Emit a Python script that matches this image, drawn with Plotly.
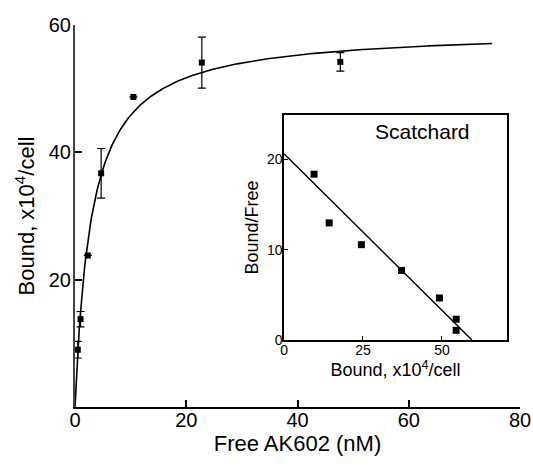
import numpy as np
import plotly.graph_objects as go

# Saturation binding data
free_nm = [0.5, 1.0, 2.3, 4.7, 10.5, 22.8, 47.7]
bound = [9.0, 13.8, 23.8, 36.7, 48.7, 54.1, 54.2]
bound_err = [1.3, 1.2, 0.0, 3.9, 0.0, 4.0, 1.45]

# Hyperbolic fit parameters
bmax = 59.35
kd = 2.95

# Scatchard data
sc_bound = [9.5, 14.3, 24.5, 37.2, 49.2, 54.5, 54.5]
sc_ratio = [18.35, 12.96, 10.55, 7.7, 4.65, 2.3, 1.07]
# Scatchard fit line: intercept on y and x axes
sc_y0 = 20.6
sc_x0 = 59.5

main_xticks = [0, 20, 40, 60, 80]
main_yticks = [20, 40, 60]
inset_xticks = [0, 25, 50]
inset_yticks = [0, 10, 20]

FONT = "Liberation Sans, Arial, sans-serif"

xfit = np.linspace(0, 75, 400)
yfit = bmax * xfit / (kd + xfit)

fig = go.Figure()
fig.add_trace(go.Scatter(x=xfit, y=yfit, mode="lines",
                         line=dict(color="black", width=1.6),
                         xaxis="x", yaxis="y", showlegend=False))
fig.add_trace(go.Scatter(x=free_nm, y=bound, mode="markers",
                         marker=dict(symbol="square", size=6, color="black"),
                         error_y=dict(type="data", array=bound_err, visible=True,
                                      color="black", thickness=1.2, width=4),
                         cliponaxis=False,
                         xaxis="x", yaxis="y", showlegend=False))

sx = np.array([0, sc_x0])
sy = sc_y0 * (1 - sx / sc_x0)
fig.add_trace(go.Scatter(x=sx, y=sy, mode="lines",
                         line=dict(color="black", width=1.4),
                         xaxis="x2", yaxis="y2", showlegend=False))
fig.add_trace(go.Scatter(x=sc_bound, y=sc_ratio, mode="markers",
                         marker=dict(symbol="square", size=7, color="black"),
                         cliponaxis=False,
                         xaxis="x2", yaxis="y2", showlegend=False))

fig.update_layout(
    width=533, height=467,
    margin=dict(l=75, r=13, t=25, b=60),
    paper_bgcolor="white", plot_bgcolor="white",
    font=dict(family=FONT, color="black"),
    xaxis=dict(domain=[0, 1], range=[0, 80], tickvals=main_xticks, automargin=False,
               showline=True, linecolor="black", linewidth=2,
               ticks="inside", ticklen=7, tickwidth=1.5, tickcolor="black",
               showgrid=False, zeroline=False, ticklabelstandoff=-6,
               tickfont=dict(size=20),
               title=dict(text="Free AK602 (nM)", font=dict(size=22), standoff=2)),
    yaxis=dict(domain=[0, 1], range=[0, 60], tickvals=main_yticks, automargin=False,
               showline=True, linecolor="#444", linewidth=2,
               ticks="inside", ticklen=7, tickwidth=1.5, tickcolor="black",
               showgrid=False, zeroline=False, ticklabelstandoff=-2,
               tickfont=dict(size=20),
               title=dict(text="Bound, x10<sup>4</sup>/cell", font=dict(size=22), standoff=8)),
    xaxis2=dict(domain=[0.4697, 0.9708], range=[0, 70.6], anchor="y2", automargin=False,
                tickvals=inset_xticks,
                showline=True, mirror=True, linecolor="black", linewidth=1.5,
                ticks="inside", ticklen=4, tickwidth=1, tickcolor="black",
                showgrid=False, zeroline=False, ticklabelstandoff=-4,
                tickfont=dict(size=14),
                title=dict(text="Bound, x10<sup>4</sup>/cell", font=dict(size=18), standoff=2)),
    yaxis2=dict(domain=[0.1754, 0.7644], range=[0, 24.9], anchor="x2", automargin=False,
                tickvals=inset_yticks,
                showline=True, mirror=True, linecolor="black", linewidth=1.5,
                ticks="inside", ticklen=4, tickwidth=1, tickcolor="black",
                showgrid=False, zeroline=False, ticklabelstandoff=-3,
                tickfont=dict(size=14),
                title=dict(text="Bound/Free", font=dict(size=18), standoff=4)),
    annotations=[dict(text="Scatchard", x=0.62, y=0.985, xref="x2 domain", yref="y2 domain",
                      xanchor="center", yanchor="top", showarrow=False,
                      font=dict(size=21))],
)

fig.write_html("out.html", config={"displayModeBar": False},
               post_script="document.body.style.margin='0';document.body.style.overflow='hidden';")
